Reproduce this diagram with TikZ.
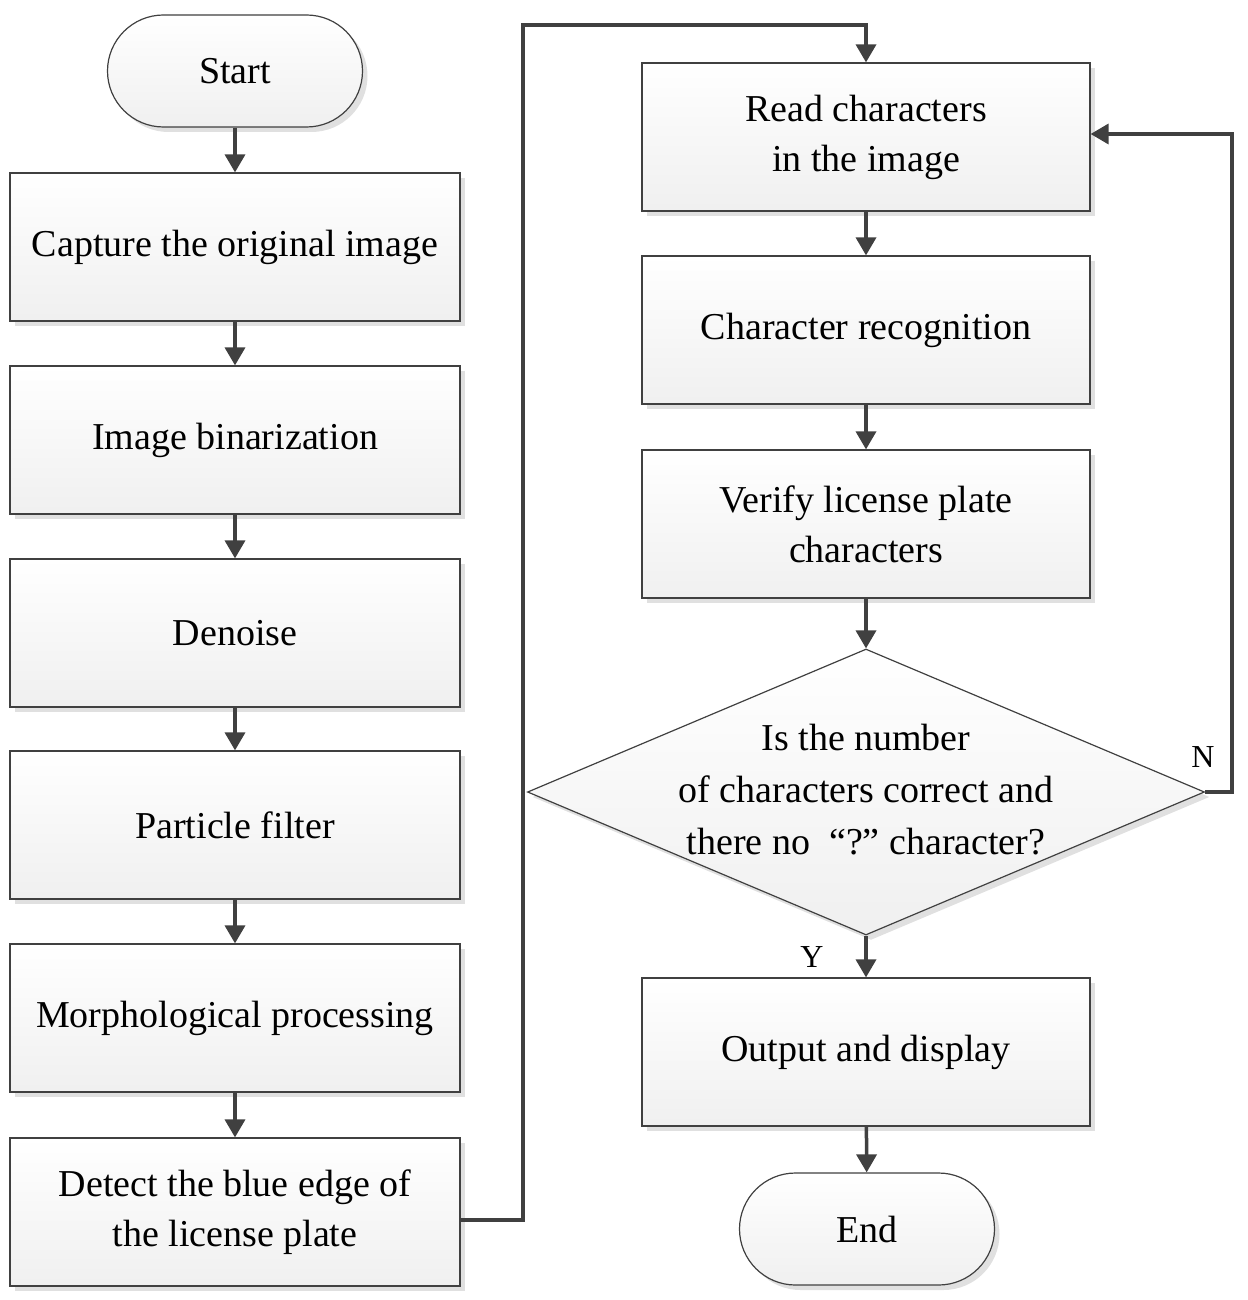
\documentclass[tikz,border=0pt]{standalone}
\usepackage{fontspec}
\setmainfont{Liberation Serif}
\usetikzlibrary{shapes.geometric,arrows.meta,shadows}
\begin{document}
\begin{tikzpicture}[x=1pt,y=-1pt,
 base/.style={draw=black!75,line width=1.2pt,top color=white,bottom color=black!6,
   drop shadow={shadow xshift=5pt,shadow yshift=-5pt,fill=black!12,opacity=1},
   font=\fontsize{38}{50}\selectfont,align=center,inner sep=0pt},
 box/.style={base,rectangle,minimum width=450pt,minimum height=148pt},
 term/.style={base,rounded corners=56pt,minimum width=255pt,minimum height=112pt},
 dia/.style={base,diamond,aspect=2.37,minimum width=677pt,minimum height=286pt},
 con/.style={draw=black!75,line width=3.5pt,-{Triangle[length=18pt,width=20pt]}},
 lab/.style={font=\fontsize{32}{36}\selectfont}]
\useasboundingbox (0,0) rectangle (1247,1300);
\node[term] (start) at (235,71) {Start};
\node[box] (b1) at (235,247) {Capture the original image};
\node[box] (b2) at (235,440) {Image binarization};
\node[box] (b3) at (235,633) {Denoise};
\node[box] (b4) at (235,825) {Particle filter};
\node[box] (b5) at (235,1018) {Morphological processing};
\node[box] (b6) at (235,1212) {Detect the blue edge of\\the license plate};
\node[box,minimum width=448pt] (r1) at (866,137) {Read characters\\in the image};
\node[box,minimum width=448pt] (r2) at (866,330) {Character recognition};
\node[box,minimum width=448pt] (r3) at (866,524) {Verify license plate\\characters};
\node[dia] (d) at (866,792) {};
\node[font=\fontsize{38}{52}\selectfont,align=center] (dt) at (866,790) {Is the number\\of characters correct and\\there no \ “?”\ character?};
\node[box,minimum width=448pt] (r4) at (866,1052) {Output and display};
\node[term] (end) at (867,1229) {End};
\draw[con] (start) -- (b1);
\draw[con] (b1) -- (b2);
\draw[con] (b2) -- (b3);
\draw[con] (b3) -- (b4);
\draw[con] (b4) -- (b5);
\draw[con] (b5) -- (b6);
\coordinate (c1) at (523,1220);
\coordinate (c2) at (523,25);
\coordinate (c3) at (866,25);
\draw[con] (b6.east |- c1) -- (c1) -- (c2) -- (c3) -- (r1.north);
\draw[con] (r1) -- (r2);
\draw[con] (r2) -- (r3);
\draw[con] (r3) -- (d.north);
\draw[con] (d.south) -- (r4);
\draw[con] (r4) -- (end);
\coordinate (f1) at (1232,792);
\coordinate (f2) at (1232,134);
\draw[con] (d.east) -- (f1) -- (f2) -- (r1.east |- f2);
\node[lab] (n) at (1203,757) {N};
\node[lab] (y) at (812,957) {Y};
\end{tikzpicture}
\end{document}
